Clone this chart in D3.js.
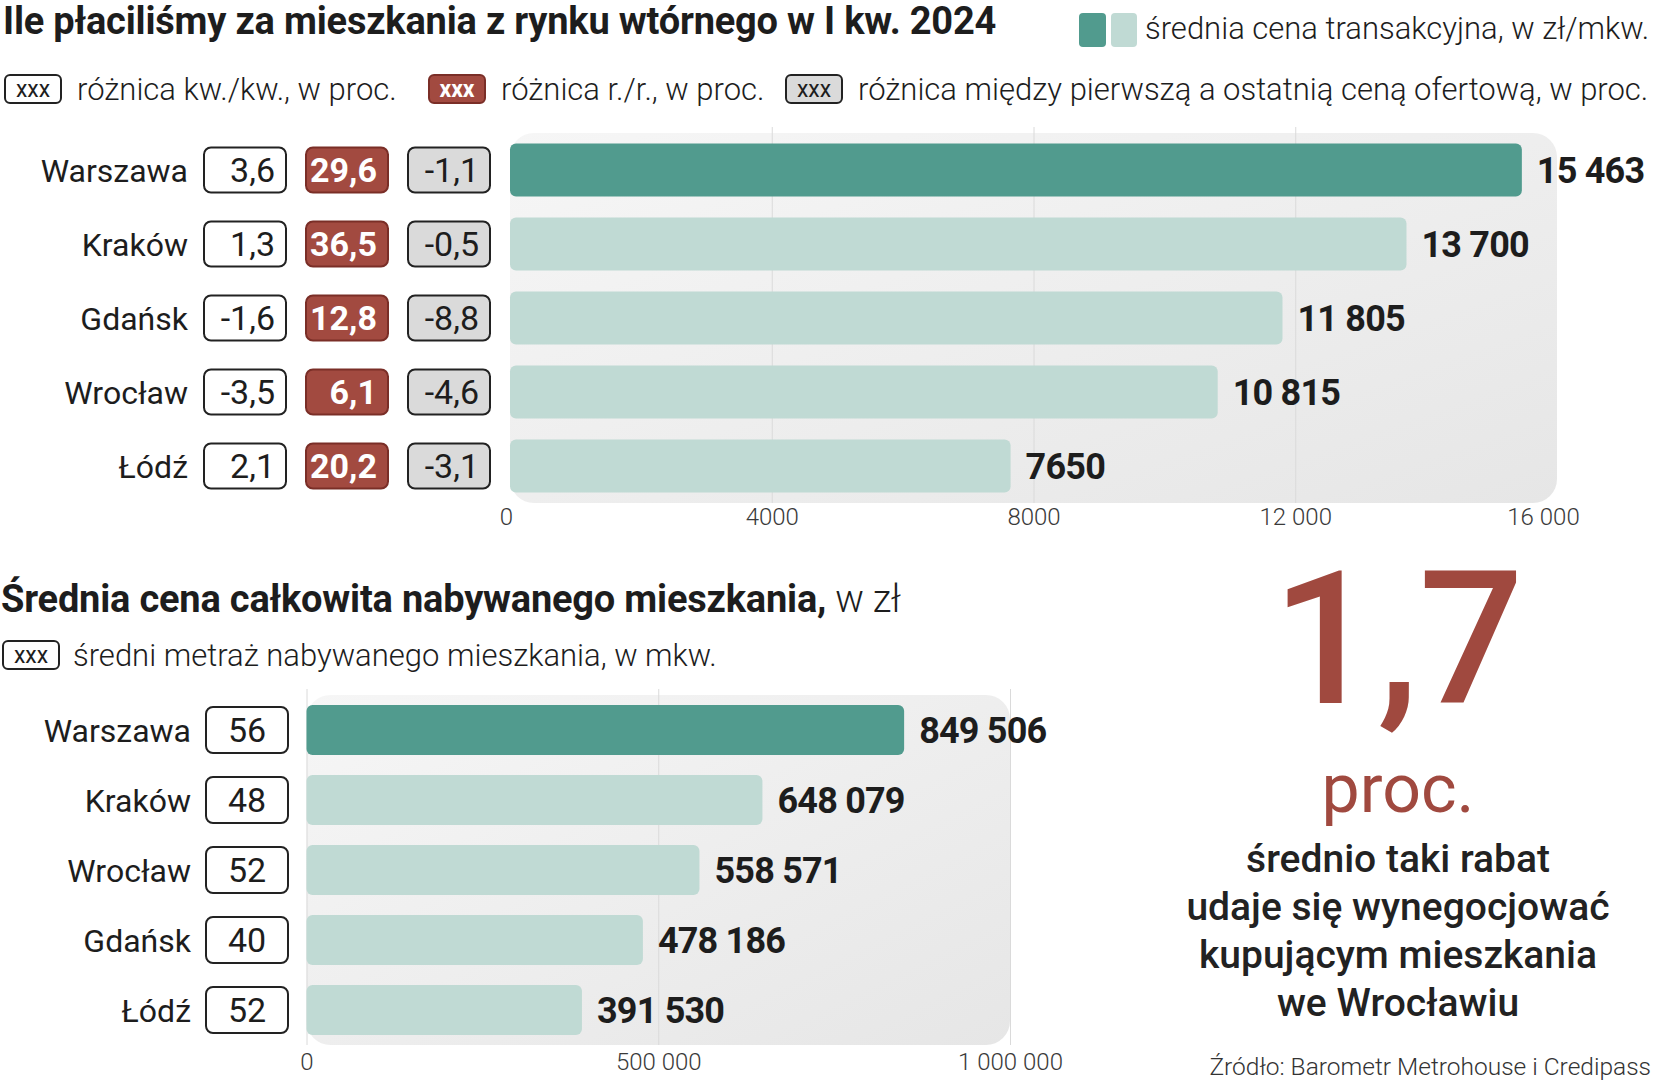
<!DOCTYPE html>
<html>
<head>
<meta charset="utf-8">
<style>
body { margin: 0; background: #fff; }
svg { display: block; font-family: Roboto, "Noto Sans", sans-serif; }
.title { font-size: 38px; font-weight: 700; fill: #1d1d1d; letter-spacing: -0.2px; }
.legend { font-size: 31px; font-weight: 300; fill: #1d1d1d; }
.rowlabel { font-size: 32px; font-weight: 400; fill: #1d1d1d; }
.value { font-size: 36px; font-weight: 700; fill: #1d1d1d; letter-spacing: -0.8px; }
.axis text { font-size: 24px; font-weight: 300; fill: #3a3a3a; font-family: Roboto, sans-serif; }
.axis .domain { display: none; }
.grid line { stroke: #dadada; stroke-width: 1; }
.grid .domain { display: none; }
.grid text { display: none; }
</style>
</head>
<body>
<svg width="1653" height="1080"></svg>
<script src="https://cdn.jsdelivr.net/npm/d3@7"></script>
<script>

// top chart data: average transaction price per m2, Q1 2024
var cities1 = ["Warszawa", "Kraków", "Gdańsk", "Wrocław", "Łódź"];
var price1 = [15463, 13700, 11805, 10815, 7650];
var qoq = [3.6, 1.3, -1.6, -3.5, 2.1];          // kw./kw.
var yoy = [29.6, 36.5, 12.8, 6.1, 20.2];        // r./r.
var offerDiff = [-1.1, -0.5, -8.8, -4.6, -3.1]; // first vs last offer price
var ticks1 = [0, 4000, 8000, 12000, 16000];

// bottom chart data: average total price, average area
var cities2 = ["Warszawa", "Kraków", "Wrocław", "Gdańsk", "Łódź"];
var total2 = [849506, 648079, 558571, 478186, 391530];
var area2 = [56, 48, 52, 40, 52];
var ticks2 = [0, 500000, 1000000];

var highlight = 1.7;
var highlightText = ["średnio taki rabat", "udaje się wynegocjować", "kupującym mieszkania", "we Wrocławiu"];

var DARK = "#519b8e", LIGHT = "#c0dad4", RED = "#a24a40", BIGRED = "#a0493f";

var pl = d3.formatLocale({decimal: ",", thousands: " ", grouping: [3], currency: ["", " zł"], minus: "-"});
var grouped = pl.format(",d");
function fmtInt(v) { return v >= 10000 ? grouped(v) : String(v); }
var fmt1 = pl.format(".1f");

var svg = d3.select("svg");

var defs = svg.append("defs");
var grad = defs.append("linearGradient")
  .attr("id", "panelGrad")
  .attr("x1", "0%").attr("y1", "0%")
  .attr("x2", "100%").attr("y2", "100%");
grad.append("stop").attr("offset", "0%").attr("stop-color", "#f6f6f6");
grad.append("stop").attr("offset", "100%").attr("stop-color", "#e6e6e6");

// ---------- header ----------
svg.append("text").attr("class", "title")
  .attr("x", 3).attr("y", 34)
  .text("Ile płaciliśmy za mieszkania z rynku wtórnego w I kw. 2024");

// colour legend
svg.append("rect").attr("x", 1079).attr("y", 13).attr("width", 27).attr("height", 34).attr("rx", 4).attr("fill", DARK);
svg.append("rect").attr("x", 1111).attr("y", 13).attr("width", 26).attr("height", 34).attr("rx", 4).attr("fill", LIGHT);
svg.append("text").attr("class", "legend").attr("x", 1145).attr("y", 39)
  .text("średnia cena transakcyjna, w zł/mkw.");

// box styles for the three percentage columns
var boxCols = [
  {x: 204, fill: "#fff", stroke: "#222", color: "#1d1d1d", weight: 400, vals: qoq},
  {x: 306, fill: RED, stroke: "#7a2e27", color: "#fff", weight: 700, vals: yoy},
  {x: 408, fill: "#dadada", stroke: "#222", color: "#1d1d1d", weight: 400, vals: offerDiff}
];
var boxLegend = [
  {x: 5, text: "różnica kw./kw., w proc."},
  {x: 429, text: "różnica r./r., w proc."},
  {x: 786, text: "różnica między pierwszą a ostatnią ceną ofertową, w proc."}
];

function legendBox(g, x, y, style) {
  g.append("rect").attr("x", x).attr("y", y).attr("width", 56).attr("height", 28).attr("rx", 5)
    .attr("fill", style.fill).attr("stroke", style.stroke).attr("stroke-width", 2);
  g.append("text").attr("x", x + 28).attr("y", y + 22).attr("text-anchor", "middle")
    .style("font-size", "23px").style("font-weight", style.weight === 700 ? 700 : 400)
    .attr("fill", style.color).text("xxx");
}

var lg = svg.append("g");
boxLegend.forEach(function(b, i) {
  legendBox(lg, b.x, 75, boxCols[i]);
  lg.append("text").attr("class", "legend").attr("x", b.x + 72).attr("y", 100).text(b.text);
});

// ---------- top chart ----------
var x1 = d3.scaleLinear().domain([0, 16000]).range([510, 1557]);
var y1 = d3.scaleBand().domain(cities1).range([133, 503]).paddingInner(21 / 74).paddingOuter(21 / 148);

var gTop = svg.append("g");
gTop.append("rect")
  .attr("x", x1(0)).attr("y", y1.range()[0])
  .attr("width", x1(16000) - x1(0)).attr("height", y1.range()[1] - y1.range()[0])
  .attr("rx", 24).attr("fill", "url(#panelGrad)");

gTop.append("g").attr("class", "grid")
  .attr("transform", "translate(0," + y1.range()[1] + ")")
  .call(d3.axisBottom(x1).tickValues(ticks1.slice(1, -1)).tickSize(-(y1.range()[1] - y1.range()[0] + 6)).tickSizeOuter(0));

var ax1 = gTop.append("g").attr("class", "axis")
  .attr("transform", "translate(0," + y1.range()[1] + ")")
  .call(d3.axisBottom(x1).tickValues(ticks1).tickSize(0).tickPadding(5).tickFormat(fmtInt));
ax1.selectAll(".tick text").filter(function(d) { return d === 16000; }).attr("dx", -14);
ax1.selectAll(".tick text").filter(function(d) { return d === 0; }).attr("dx", -4);

var rows1 = gTop.selectAll(".row").data(cities1).enter().append("g").attr("class", "row");

rows1.append("rect")
  .attr("x", x1(0))
  .attr("y", function(d) { return y1(d); })
  .attr("width", function(d, i) { return x1(price1[i]) - x1(0); })
  .attr("height", y1.bandwidth())
  .attr("rx", 6)
  .attr("fill", function(d, i) { return i === 0 ? DARK : LIGHT; });

rows1.append("text").attr("class", "value")
  .attr("x", function(d, i) { return x1(price1[i]) + 15; })
  .attr("y", function(d) { return y1(d) + y1.bandwidth() / 2; })
  .attr("dy", "0.36em")
  .text(function(d, i) { return fmtInt(price1[i]); });

rows1.append("text").attr("class", "rowlabel")
  .attr("x", 188)
  .attr("y", function(d) { return y1(d) + y1.bandwidth() / 2; })
  .attr("dy", "0.36em").attr("text-anchor", "end")
  .text(function(d) { return d; });

boxCols.forEach(function(c) {
  rows1.append("rect")
    .attr("x", c.x).attr("y", function(d) { return y1(d) + y1.bandwidth() / 2 - 22.5; })
    .attr("width", 82).attr("height", 45).attr("rx", 7)
    .attr("fill", c.fill).attr("stroke", c.stroke).attr("stroke-width", 2);
  rows1.append("text")
    .attr("x", c.x + 71)
    .attr("y", function(d) { return y1(d) + y1.bandwidth() / 2; })
    .attr("dy", "0.36em").attr("text-anchor", "end")
    .style("font-size", "34px").style("font-weight", c.weight).attr("fill", c.color)
    .text(function(d, i) { return fmt1(c.vals[i]); });
});

// ---------- bottom chart ----------
var t2 = svg.append("text").attr("class", "title").attr("x", 1).attr("y", 612);
t2.append("tspan").text("Średnia cena całkowita nabywanego mieszkania,");
t2.append("tspan").style("font-weight", 300).text(" w zł");

legendBox(svg, 3, 641, boxCols[0]);
svg.append("text").attr("class", "legend").attr("x", 73).attr("y", 666)
  .text("średni metraż nabywanego mieszkania, w mkw.");

var x2 = d3.scaleLinear().domain([0, 1000000]).range([306.5, 1010]);
var y2 = d3.scaleBand().domain(cities2).range([695, 1045]).paddingInner(20 / 70).paddingOuter(10 / 70);

var gBot = svg.append("g");
gBot.append("rect")
  .attr("x", x2(0)).attr("y", y2.range()[0])
  .attr("width", x2(1000000) - x2(0)).attr("height", y2.range()[1] - y2.range()[0])
  .attr("rx", 24).attr("fill", "url(#panelGrad)");

gBot.append("g").attr("class", "grid")
  .attr("transform", "translate(0," + y2.range()[1] + ")")
  .call(d3.axisBottom(x2).tickValues(ticks2).tickSize(-(y2.range()[1] - y2.range()[0] + 6)).tickSizeOuter(0));

gBot.append("g").attr("class", "axis")
  .attr("transform", "translate(0," + y2.range()[1] + ")")
  .call(d3.axisBottom(x2).tickValues(ticks2).tickSize(0).tickPadding(8).tickFormat(fmtInt));

var rows2 = gBot.selectAll(".row").data(cities2).enter().append("g").attr("class", "row");

rows2.append("rect")
  .attr("x", x2(0))
  .attr("y", function(d) { return y2(d); })
  .attr("width", function(d, i) { return x2(total2[i]) - x2(0); })
  .attr("height", y2.bandwidth())
  .attr("rx", 6)
  .attr("fill", function(d, i) { return i === 0 ? DARK : LIGHT; });

rows2.append("text").attr("class", "value")
  .attr("x", function(d, i) { return x2(total2[i]) + 15; })
  .attr("y", function(d) { return y2(d) + y2.bandwidth() / 2; })
  .attr("dy", "0.36em")
  .text(function(d, i) { return fmtInt(total2[i]); });

rows2.append("text").attr("class", "rowlabel")
  .attr("x", 191)
  .attr("y", function(d) { return y2(d) + y2.bandwidth() / 2; })
  .attr("dy", "0.36em").attr("text-anchor", "end")
  .text(function(d) { return d; });

rows2.append("rect")
  .attr("x", 206).attr("y", function(d) { return y2(d) + y2.bandwidth() / 2 - 23; })
  .attr("width", 82).attr("height", 46).attr("rx", 7)
  .attr("fill", "#fff").attr("stroke", "#222").attr("stroke-width", 2);
rows2.append("text")
  .attr("x", 247)
  .attr("y", function(d) { return y2(d) + y2.bandwidth() / 2; })
  .attr("dy", "0.36em").attr("text-anchor", "middle")
  .style("font-size", "34px").attr("fill", "#1d1d1d")
  .text(function(d, i) { return area2[i]; });

// ---------- highlight on the right ----------
var hx = 1398;
svg.append("text").attr("x", hx).attr("y", 703).attr("text-anchor", "middle")
  .style("font-size", "185px").style("font-weight", 500).attr("fill", BIGRED)
  .text(fmt1(highlight));
svg.append("text").attr("x", hx).attr("y", 812).attr("text-anchor", "middle")
  .style("font-size", "68px").style("font-weight", 400).attr("fill", BIGRED)
  .text("proc.");
svg.selectAll(".hl").data(highlightText).enter().append("text").attr("class", "hl")
  .attr("x", hx).attr("y", function(d, i) { return 872 + i * 48; })
  .attr("text-anchor", "middle")
  .style("font-size", "39px").style("font-weight", 500).attr("fill", "#222")
  .text(function(d) { return d; });

svg.append("text").attr("x", 1651).attr("y", 1075).attr("text-anchor", "end")
  .style("font-size", "24.5px").style("font-weight", 300).attr("fill", "#333")
  .text("Źródło: Barometr Metrohouse i Credipass");

</script>
</body>
</html>
